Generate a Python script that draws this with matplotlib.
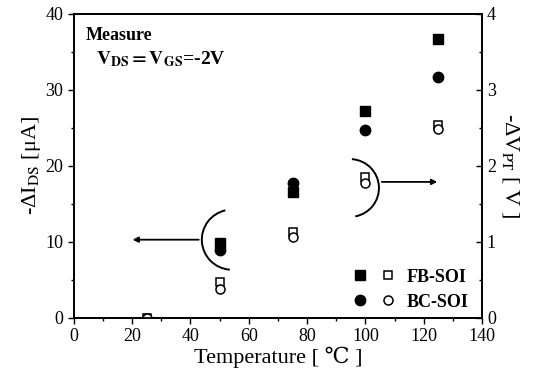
import matplotlib
matplotlib.use("Agg")
import matplotlib.pyplot as plt
from matplotlib.patches import Arc
from matplotlib.legend_handler import HandlerTuple
from matplotlib.ticker import MultipleLocator

plt.rcParams['font.family'] = ['Liberation Serif', 'DejaVu Serif', 'Noto Sans CJK JP']
plt.rcParams['mathtext.fontset'] = 'stix'

# temperature [C]
temp = [50, 75, 100, 125]
temp_v = [25, 50, 75, 100, 125]

# -dI_DS [uA] (left axis, filled markers)
fb_ids = [9.9, 16.6, 27.2, 36.7]
bc_ids = [9.0, 17.8, 24.7, 31.7]

# -dV_PT [V] (right axis, open markers)
fb_vpt = [0.0, 0.47, 1.13, 1.86, 2.54]
bc_vpt = [0.0, 0.38, 1.07, 1.78, 2.49]

fig = plt.figure(figsize=(5.35, 3.75), dpi=100)
ax = fig.add_axes([0.138, 0.152, 0.763, 0.811])
ax2 = ax.twinx()

sq_f, = ax.plot(temp, fb_ids, 's', color='black', ms=7)
ci_f, = ax.plot(temp, bc_ids, 'o', color='black', ms=7.5)
sq_o, = ax2.plot(temp_v, fb_vpt, 's', mfc='white', mec='black', mew=1.1, ms=6)
ci_o, = ax2.plot(temp_v, bc_vpt, 'o', mfc='white', mec='black', mew=1.1, ms=6.5)

ax.set_xlim(0, 140)
ax.set_ylim(0, 40)
ax2.set_ylim(0, 4)
ax.xaxis.set_major_locator(MultipleLocator(20))
ax.xaxis.set_minor_locator(MultipleLocator(10))
ax.yaxis.set_major_locator(MultipleLocator(10))
ax.yaxis.set_minor_locator(MultipleLocator(5))
ax2.yaxis.set_major_locator(MultipleLocator(1))
ax2.yaxis.set_minor_locator(MultipleLocator(0.5))

ax.tick_params(axis='both', which='major', direction='out', length=4, labelsize=13, width=1)
ax.tick_params(axis='both', which='minor', direction='out', length=2.5, width=1)
ax2.tick_params(axis='y', which='major', direction='in', length=4, labelsize=13, width=1)
ax2.tick_params(axis='y', which='minor', direction='in', length=2.5, width=1)
for a in (ax, ax2):
    for s in a.spines.values():
        s.set_linewidth(1.3)

ax.set_xlabel('Temperature [ ℃ ]', fontsize=16, labelpad=1)
ax.set_ylabel(r'-ΔI$_{\rm DS}$ [μA]', fontsize=16, labelpad=2)
ax2.set_ylabel(r'-ΔV$_{\rm PT}$ [ V ]', fontsize=16, rotation=270, labelpad=18)

ax.text(4, 38.3, 'Measure', fontsize=13, fontweight='bold', va='top')
ax.text(7.5, 35.3, r'$\mathbf{V_{DS}=V_{GS}}$=-2V', fontsize=14, fontweight='bold', va='top')

# arcs and arrows pointing to the axes
ax.add_patch(Arc((54.2, 10.3), 20.6, 7.9, theta1=120, theta2=260, color='black', lw=1.4))
ax.annotate('', xy=(19.2, 10.3), xytext=(43.8, 10.3),
            arrowprops=dict(arrowstyle='-|>', color='black', lw=1.3, mutation_scale=8))
ax.add_patch(Arc((94.7, 17.1), 19.9, 7.6, theta1=-64, theta2=80, color='black', lw=1.4))
ax.annotate('', xy=(125.6, 17.9), xytext=(104.7, 17.9),
            arrowprops=dict(arrowstyle='-|>', color='black', lw=1.3, mutation_scale=8))

leg = ax.legend([(sq_f, sq_o), (ci_f, ci_o)], ['FB-SOI', 'BC-SOI'],
                handler_map={tuple: HandlerTuple(ndivide=None, pad=0.9)},
                loc='lower right', frameon=False, prop={'weight': 'bold', 'size': 13},
                handlelength=2.2, handletextpad=0.7, labelspacing=0.45,
                borderaxespad=0.0, bbox_to_anchor=(0.985, 0.0))

fig.savefig('out.png', dpi=100)
